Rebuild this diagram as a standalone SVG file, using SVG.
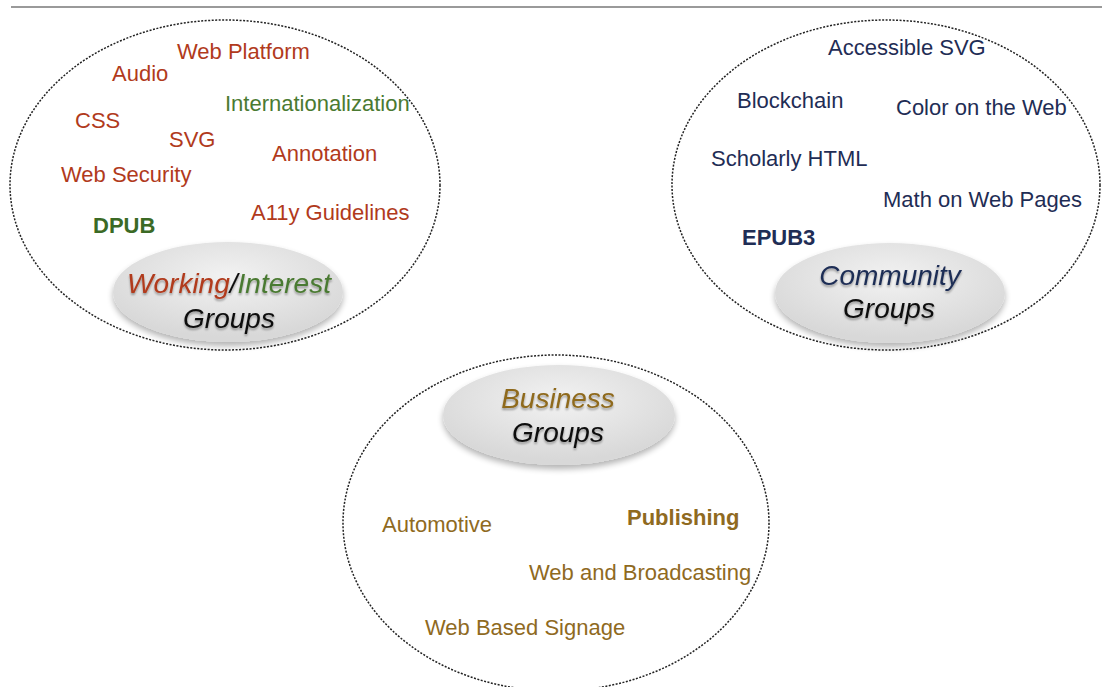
<svg xmlns="http://www.w3.org/2000/svg" width="1102" height="687" viewBox="0 0 1102 687">
<style>
.t{font-family:"Liberation Sans",Arial,sans-serif;font-size:22px}
.b{font-weight:bold}
.red{fill:#b13a1c}
.grn{fill:#4a7a31}
.dgrn{fill:#3b6a25}
.navy{fill:#1f2d55}
.gold{fill:#8f6a1f}
.lbl{font-family:"Liberation Sans",Arial,sans-serif;font-size:28px;font-style:italic;filter:url(#ts)}
.blk{fill:#111}
.outer{fill:none;stroke:#222;stroke-width:1.5;stroke-dasharray:2 1.5}
.bub{fill:url(#bg);filter:url(#sh)}
</style>
<defs>
<radialGradient id="bg" cx="0.5" cy="0.35" r="0.6">
<stop offset="0" stop-color="#f2f2f2"/>
<stop offset="1" stop-color="#d8d8d8"/>
</radialGradient>
<filter id="sh" x="-20%" y="-20%" width="140%" height="150%">
<feGaussianBlur in="SourceAlpha" stdDeviation="3"/>
<feOffset dx="0" dy="4" result="o"/>
<feComponentTransfer><feFuncA type="linear" slope="0.3"/></feComponentTransfer>
<feMerge><feMergeNode/><feMergeNode in="SourceGraphic"/></feMerge>
</filter>
<filter id="ts" x="-10%" y="-20%" width="120%" height="150%">
<feGaussianBlur in="SourceAlpha" stdDeviation="1.2"/>
<feOffset dx="0" dy="2"/>
<feComponentTransfer><feFuncA type="linear" slope="0.35"/></feComponentTransfer>
<feMerge><feMergeNode/><feMergeNode in="SourceGraphic"/></feMerge>
</filter>
</defs>
<rect width="1102" height="687" fill="#fff"/>
<line x1="11" y1="7" x2="1102" y2="7" stroke="#9a9a9a" stroke-width="2"/>

<g id="working-interest-groups">
<ellipse class="outer" cx="225" cy="185" rx="215" ry="165"/>
<ellipse class="bub" cx="228" cy="292" rx="115" ry="50"/>
<text class="t red" x="177" y="59">Web Platform</text>
<text class="t red" x="112" y="81">Audio</text>
<text class="t grn" x="225" y="111">Internationalization</text>
<text class="t red" x="75" y="128">CSS</text>
<text class="t red" x="169" y="147">SVG</text>
<text class="t red" x="272" y="161">Annotation</text>
<text class="t red" x="61" y="182">Web Security</text>
<text class="t b dgrn" x="93" y="233">DPUB</text>
<text class="t red" x="251" y="220">A11y Guidelines</text>
<text class="lbl" x="229" y="293" text-anchor="middle"><tspan class="red">Working</tspan><tspan class="blk">/</tspan><tspan class="grn">Interest</tspan></text>
<text class="lbl blk" x="229" y="328" text-anchor="middle">Groups</text>
</g>

<g id="community-groups">
<ellipse class="outer" cx="886" cy="185" rx="214" ry="165"/>
<ellipse class="bub" cx="890" cy="293" rx="115" ry="50"/>
<text class="t navy" x="828" y="55">Accessible SVG</text>
<text class="t navy" x="737" y="108">Blockchain</text>
<text class="t navy" x="896" y="115">Color on the Web</text>
<text class="t navy" x="711" y="166">Scholarly HTML</text>
<text class="t navy" x="883" y="207">Math on Web Pages</text>
<text class="t b navy" x="742" y="245">EPUB3</text>
<text class="lbl navy" x="890" y="285" text-anchor="middle">Community</text>
<text class="lbl blk" x="889" y="318" text-anchor="middle">Groups</text>
</g>

<g id="business-groups">
<ellipse class="outer" cx="556" cy="523" rx="213" ry="168"/>
<ellipse class="bub" cx="559" cy="415" rx="116" ry="50"/>
<text class="lbl gold" x="558" y="408" text-anchor="middle">Business</text>
<text class="lbl blk" x="558" y="442" text-anchor="middle">Groups</text>
<text class="t gold" x="382" y="532">Automotive</text>
<text class="t b gold" x="627" y="525">Publishing</text>
<text class="t gold" x="529" y="580">Web and Broadcasting</text>
<text class="t gold" x="425" y="635">Web Based Signage</text>
</g>

<g id="connectors"></g>
</svg>
